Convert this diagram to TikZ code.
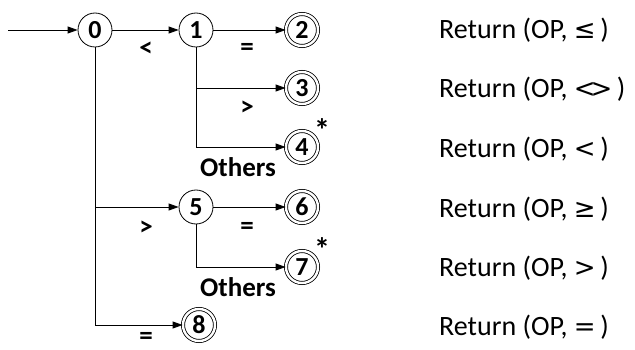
\documentclass[tikz,border=0pt]{standalone}
\usepackage{fontspec}
\setmainfont{Carlito}
\newfontfamily\symfont{DejaVu Sans}
\usetikzlibrary{arrows.meta}

\tikzset{
  state/.style={circle, draw, line width=0.8pt, minimum size=34pt, inner sep=0pt,
    font=\bfseries\fontsize{26}{26}\selectfont},
  accept/.style={state, double, double distance=2.4pt, minimum size=32pt},
  arr/.style={line width=0.8pt, -{Triangle[length=10pt,width=7pt]}},
  lbl/.style={font=\bfseries\fontsize{27}{27}\selectfont, inner sep=0pt},
  star/.style={font=\bfseries\fontsize{32}{32}\selectfont, inner sep=0pt, anchor=north},
  ret/.style={anchor=west, inner sep=0pt, font=\fontsize{28}{28}\selectfont}
}

\newcommand{\rel}[1]{{\symfont\fontsize{26}{26}\selectfont #1}}

\begin{document}
\begin{tikzpicture}[x=1pt, y=-1pt]
  \useasboundingbox (0,0) rectangle (635,350);

  % states
  \node[state]  (n0) at (95,30)   {0};
  \node[state]  (n1) at (196,30)  {1};
  \node[accept] (n2) at (302,30)  {2};
  \node[accept] (n3) at (302,88)  {3};
  \node[accept] (n4) at (302,147) {4};
  \node[state]  (n5) at (196,207) {5};
  \node[accept] (n6) at (302,207) {6};
  \node[accept] (n7) at (302,267) {7};
  \node[accept] (n8) at (199,325) {8};

  \coordinate (start) at (8,30);

  % transitions
  \draw[arr] (start) -- (n0);
  \draw[arr] (n0) -- (n1);
  \draw[arr] (n1) -- (n2);
  \draw[arr] (n1) |- (n3);
  \draw[arr] (n1) |- (n4);
  \draw[arr] (n0) |- (n5);
  \draw[arr] (n5) -- (n6);
  \draw[arr] (n5) |- (n7);
  \draw[arr] (n0) |- (n8);

  % transition labels
  \node[lbl] (l01) at (146,49)  {<};
  \node[lbl] (l12) at (247,49)  {=};
  \node[lbl] (l13) at (247,108) {>};
  \node[lbl] (l14) at (238,167) {Others};
  \node[lbl] (l05) at (146,228) {>};
  \node[lbl] (l56) at (247,228) {=};
  \node[lbl] (l57) at (238,287) {Others};
  \node[lbl] (l08) at (146,338) {=};

  % retract markers
  \node[star] (s4) at (322,118) {*};
  \node[star] (s7) at (322,237) {*};

  % returned tokens
  \node[ret] (r2) at (439,30)  {Return (OP, \rel{≤}\,)};
  \node[ret] (r3) at (439,89)  {Return (OP, \rel{<\kern-0.2em>}\,)};
  \node[ret] (r4) at (439,149) {Return (OP, \rel{<}\,)};
  \node[ret] (r6) at (439,209) {Return (OP, \rel{≥}\,)};
  \node[ret] (r7) at (439,268) {Return (OP, \rel{>}\,)};
  \node[ret] (r8) at (439,327) {Return (OP, \rel{=}\,)};
\end{tikzpicture}
\end{document}
